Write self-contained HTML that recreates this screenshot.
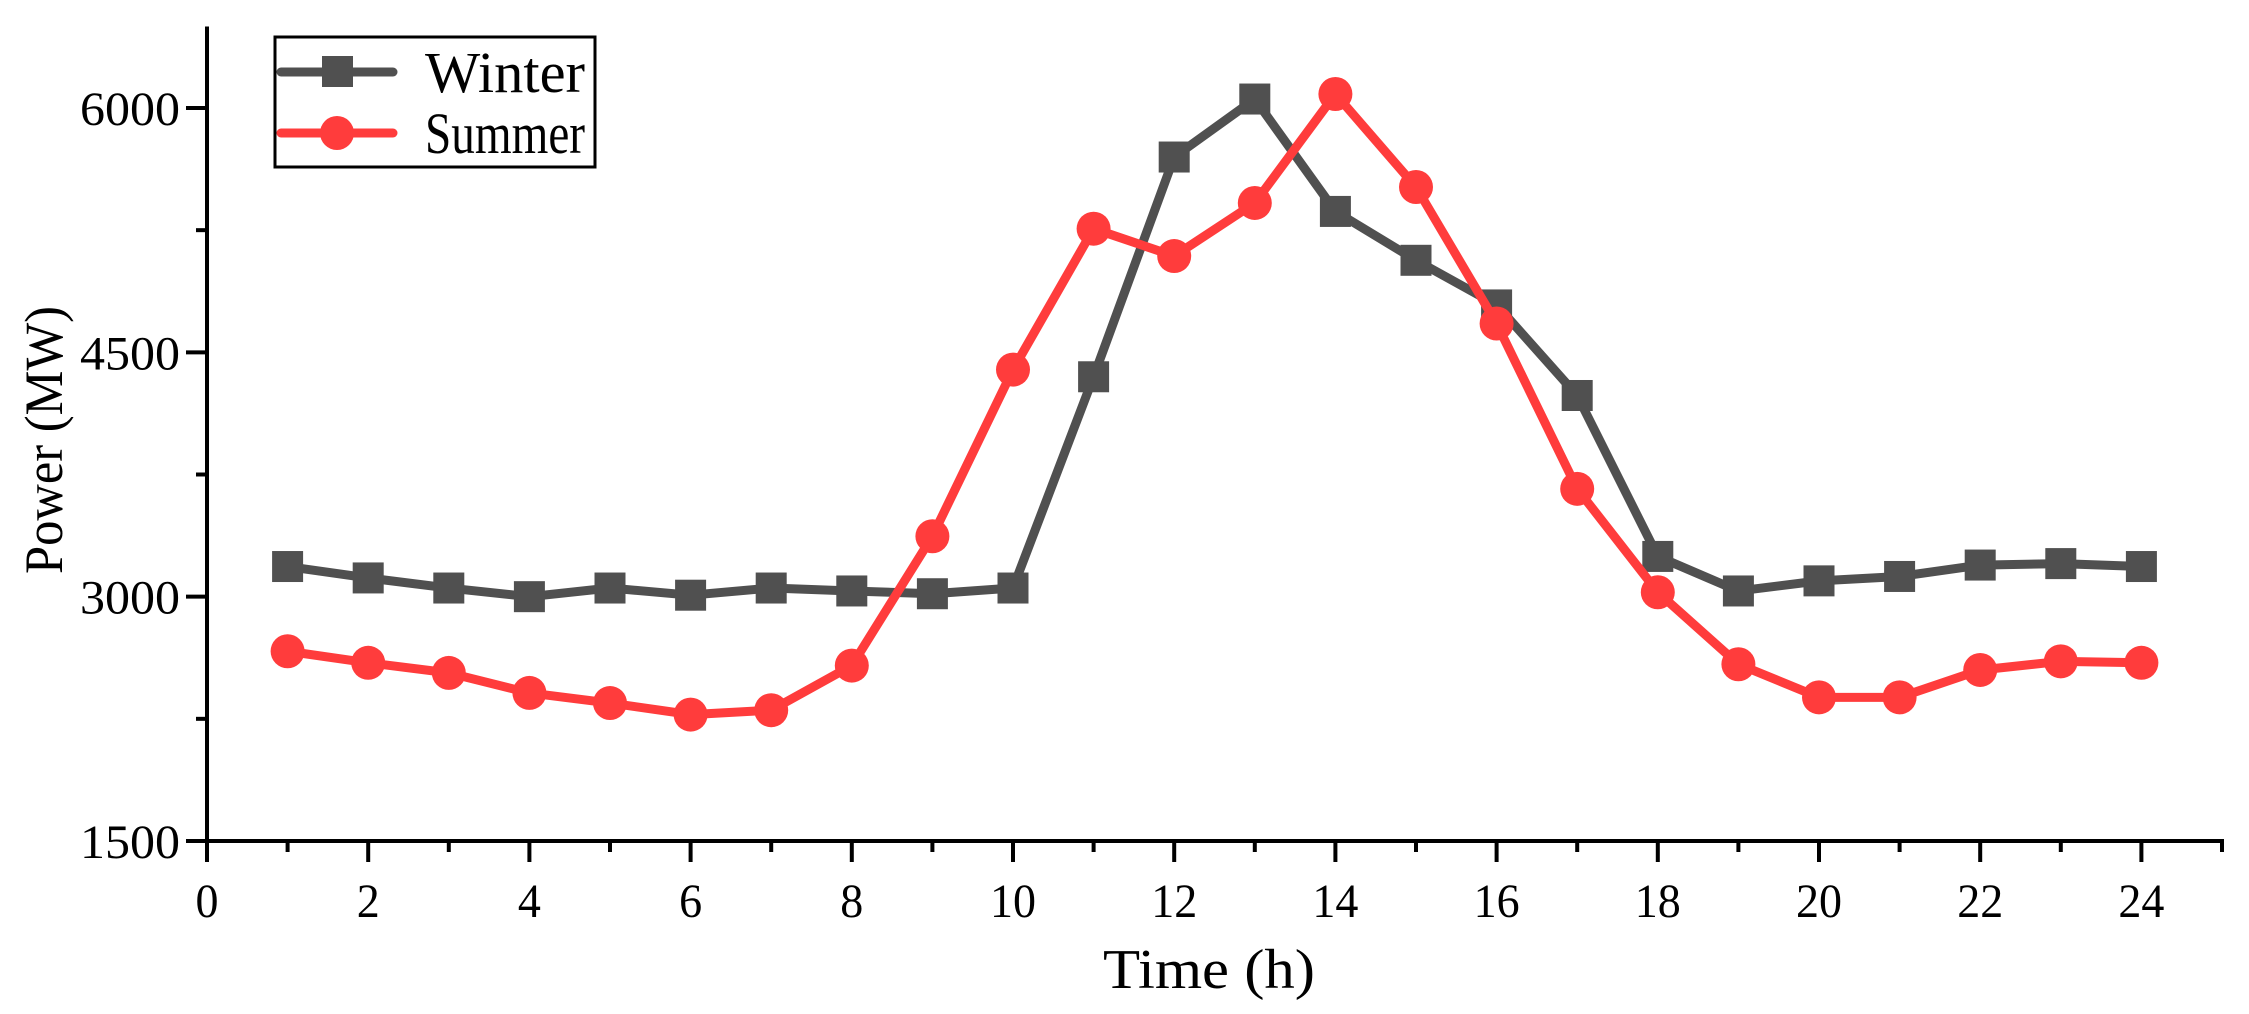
<!DOCTYPE html>
<html><head><meta charset="utf-8"><style>
html,body{margin:0;padding:0;background:#fff;}
svg{display:block;}
text{font-family:"Liberation Serif",serif;fill:#000;}
</style></head><body>
<svg id="chart" width="2249" height="1014" viewBox="0 0 2249 1014" xmlns="http://www.w3.org/2000/svg">
<g id="axes"></g>
<g id="series"></g>
<g id="legend">
  <rect x="275" y="37" width="320" height="130" fill="#fff" stroke="#000" stroke-width="3"/>
  <line x1="281" y1="72" x2="393" y2="72" stroke="#505050" stroke-width="9" stroke-linecap="round"/>
  <rect x="322" y="56" width="31" height="31" fill="#505050"/>
  <text x="425" y="92" font-size="58" textLength="160" lengthAdjust="spacingAndGlyphs">Winter</text>
  <line x1="281" y1="133" x2="393" y2="133" stroke="#ff3c3c" stroke-width="9" stroke-linecap="round"/>
  <circle cx="337" cy="133" r="17" fill="#ff3c3c"/>
  <text x="425" y="153" font-size="58" textLength="160" lengthAdjust="spacingAndGlyphs">Summer</text>
</g>
</svg>
<script>
const hours = [1,2,3,4,5,6,7,8,9,10,11,12,13,14,15,16,17,18,19,20,21,22,23,24];
const winter = [3185,3115,3053,3000,3053,3009,3053,3035,3018,3053,4350,5699,6055,5365,5065,4791,4235,3247,3035,3097,3124,3194,3203,3185];
const summer = [2665,2594,2532,2409,2347,2276,2303,2577,3371,4394,5259,5091,5417,6086,5515,4677,3662,3027,2585,2382,2382,2550,2603,2594];
const xTicks = [0,2,4,6,8,10,12,14,16,18,20,22,24];
const yTicks = [1500,3000,4500,6000];

const NS = "http://www.w3.org/2000/svg";
const X0 = 207, XPER = 80.6;
const Y0 = 841, YPER = 0.16289;
function xs(v){ return X0 + v*XPER; }
function ys(v){ return Y0 - (v-1500)*YPER; }
function mk(tag, attrs, parent){
  const e = document.createElementNS(NS, tag);
  for (const k in attrs) e.setAttribute(k, attrs[k]);
  parent.appendChild(e);
  return e;
}
const axes = document.getElementById('axes');
const series = document.getElementById('series');

let el = mk('line',{x1:X0,y1:Y0,x2:xs(25)+2,y2:Y0,stroke:'#000','stroke-width':4},axes);


el = mk('line',{x1:X0,y1:ys(6500),x2:X0,y2:Y0+21,stroke:'#000','stroke-width':4},axes);



for (let h=1; h<=25; h++){
  const major = h%2===0;
  el = mk('line',{x1:xs(h),y1:Y0,x2:xs(h),y2:Y0+(major?21:11),stroke:'#000','stroke-width':4},axes);
  
  
}
xTicks.forEach(t=>{
  const s = String(t);
  el = mk('text',{x:xs(t),y:917,'font-size':48,'text-anchor':'middle',textLength:23*s.length,lengthAdjust:'spacingAndGlyphs'},axes);
  el.textContent = s;
  
  
});
[1500,2250,3000,3750,4500,5250,6000].forEach(v=>{
  const major = v%1500===0;
  el = mk('line',{x1:X0-(major?21:11),y1:ys(v),x2:X0,y2:ys(v),stroke:'#000','stroke-width':4},axes);
  
  
});
yTicks.forEach(v=>{
  const s = String(v);
  el = mk('text',{x:180,y:ys(v)+17,'font-size':48,'text-anchor':'end',textLength:25*s.length,lengthAdjust:'spacingAndGlyphs'},axes);
  el.textContent = s;
  
  
});
el = mk('text',{x:1103,y:988,'font-size':56,textLength:212,lengthAdjust:'spacingAndGlyphs'},axes);
el.textContent = 'Time (h)';


el = mk('text',{x:0,y:0,'font-size':54,'text-anchor':'middle',textLength:268,lengthAdjust:'spacingAndGlyphs',transform:'translate(62,440) rotate(-90)'},axes);
el.textContent = 'Power (MW)';



function drawSeries(vals, color, kind, name){
  const pts = hours.map((h,i)=>xs(h)+','+ys(vals[i])).join(' ');
  let p = mk('polyline',{points:pts,fill:'none',stroke:color,'stroke-width':9,'stroke-linejoin':'round'},series);
  
  
  hours.forEach((h,i)=>{
    let m;
    if (kind==='square') m = mk('rect',{x:xs(h)-15.5,y:ys(vals[i])-15.5,width:31,height:31,fill:color},series);
    else m = mk('circle',{cx:xs(h),cy:ys(vals[i]),r:17,fill:color},series);
    
    
  });
}
drawSeries(winter,'#505050','square','winter');
drawSeries(summer,'#ff3c3c','circle','summer');
</script>
</body></html>
